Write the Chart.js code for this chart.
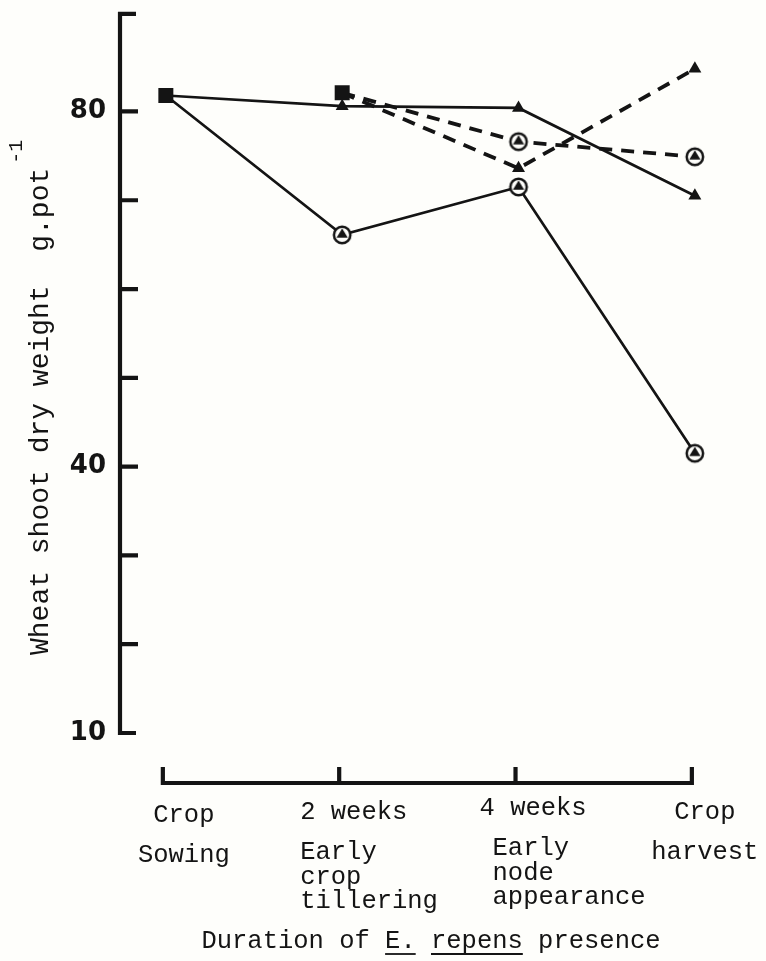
<!DOCTYPE html>
<html>
<head>
<meta charset="utf-8">
<script src="https://cdn.jsdelivr.net/npm/chart.js@4.4.1/dist/chart.umd.min.js"></script>
<style>
  html, body { margin: 0; padding: 0; background: #fefefb; }
  #wrap { width: 766px; height: 961px; }
</style>
</head>
<body>
<div id="wrap"><canvas id="lineChart"></canvas></div>
<script>
// stages of E. repens presence (x categories)
const stages = [
  ["Crop", "Sowing"],
  ["2 weeks", "Early", "crop", "tillering"],
  ["4 weeks", "Early", "node", "appearance"],
  ["Crop", "harvest"]
];
// wheat shoot dry weight, g per pot
const solidTriangle = [81.8, 80.6, 80.4, 70.5];
const solidCircle = [81.8, 66.1, 71.5, 41.5];
const dashTriangle = [null, 82.1, 73.6, 84.8];
const dashCircle = [null, 82.1, 76.6, 74.9];
const startSquares = [81.8, 82.1, null, null];
const yTickLabels = [10, 40, 80];
const yTickMarks = [20, 30, 40, 50, 60, 70, 80];
const yMin = 10, yMax = 91;

const ink = "#141414";
const mono = "'Liberation Mono', 'DejaVu Sans Mono', monospace";

const toPoints = (arr) => arr.map((v, i) => ({ x: i, y: v }));

// circle with a filled triangle inside
function circledTriangle() {
  const c = document.createElement("canvas");
  c.width = 22; c.height = 22;
  const g = c.getContext("2d");
  g.fillStyle = "#fefefb";
  g.beginPath(); g.arc(11, 11, 8.2, 0, Math.PI * 2); g.fill();
  g.lineWidth = 2.5; g.strokeStyle = ink; g.stroke();
  g.fillStyle = ink;
  g.beginPath(); g.moveTo(11, 4.6); g.lineTo(16.6, 13.8); g.lineTo(5.4, 13.8); g.closePath(); g.fill();
  return c;
}
const circleMark = circledTriangle();

// axis frame, bracket and text drawn off the scales
const frame = {
  id: "frame",
  afterDraw(chart) {
    const { ctx, scales: { x, y } } = chart;
    const ax = chart.chartArea.left;
    const top = y.getPixelForValue(yMax);
    const bottom = y.getPixelForValue(yMin);
    ctx.save();
    ctx.strokeStyle = ink;
    ctx.lineWidth = 4.2;
    ctx.lineJoin = "miter";
    ctx.beginPath();
    ctx.moveTo(ax + 16, top);
    ctx.lineTo(ax, top);
    ctx.lineTo(ax, bottom);
    ctx.lineTo(ax + 16, bottom);
    yTickMarks.forEach((v) => {
      const py = y.getPixelForValue(v);
      ctx.moveTo(ax, py);
      ctx.lineTo(ax + 18, py);
    });
    ctx.stroke();

    // x bracket below the plot
    const by = 783;
    ctx.beginPath();
    ctx.moveTo(x.getPixelForValue(0) - 3, by - 16);
    ctx.lineTo(x.getPixelForValue(0) - 3, by);
    ctx.lineTo(x.getPixelForValue(3) - 3, by);
    ctx.lineTo(x.getPixelForValue(3) - 3, by - 16);
    [1, 2].forEach((i) => {
      const px = x.getPixelForValue(i) - 3;
      ctx.moveTo(px, by);
      ctx.lineTo(px, by - 16);
    });
    ctx.stroke();

    // stage labels
    ctx.fillStyle = ink;
    ctx.font = "25.5px " + mono;
    ctx.textBaseline = "middle";
    const rows = [812, 852, 877, 901];
    const colShift = [3, 0, -4, 0];
    stages.forEach((lines, i) => {
      const px = x.getPixelForValue(i);
      lines.forEach((t, j) => {
        const ty = rows[j] + colShift[i];
        if (i === 0 || i === 3) {
          ctx.textAlign = "center";
          ctx.fillText(t, px + (i === 0 ? 18 : 10), ty);
        } else {
          ctx.textAlign = "left";
          const off = (i === 2 && j > 0) ? -26 : (i === 2 ? -39 : -42);
          ctx.fillText(t, px + off, ty);
        }
      });
    });

    // x title with underlined species name
    const parts = ["Duration of ", "E.", " ", "repens", " presence"];
    ctx.textAlign = "left";
    const full = parts.join("");
    let tx = 431 - ctx.measureText(full).width / 2;
    const ty = 941;
    ctx.lineWidth = 1.8;
    parts.forEach((p, k) => {
      const w = ctx.measureText(p).width;
      ctx.fillText(p, tx, ty);
      if (k === 1 || k === 3) {
        ctx.beginPath();
        ctx.moveTo(tx, ty + 13);
        ctx.lineTo(tx + w, ty + 13);
        ctx.stroke();
      }
      tx += w;
    });

    // y title, rotated, with superscript
    ctx.save();
    ctx.translate(41, 655);
    ctx.rotate(-Math.PI / 2);
    ctx.textAlign = "left";
    ctx.font = "28px " + mono;
    const yt = "Wheat shoot dry weight  g.pot";
    ctx.fillText(yt, 0, 0);
    const w = ctx.measureText(yt).width;
    ctx.font = "20px " + mono;
    ctx.fillText("-1", w + 4, -24);
    ctx.restore();

    ctx.restore();
  }
};

new Chart(document.getElementById("lineChart"), {
  type: "line",
  data: {
    datasets: [
      {
        label: "Start",
        data: toPoints(startSquares),
        showLine: false,
        pointStyle: "rect",
        pointRadius: 10.6,
        backgroundColor: ink,
        borderColor: ink,
        borderWidth: 0
      },
      {
        label: "Present, triangle",
        data: toPoints(solidTriangle),
        borderColor: ink,
        borderWidth: 2.7,
        pointStyle: "triangle",
        pointRadius: [0, 7.5, 7.5, 7.5],
        backgroundColor: ink,
        pointBorderWidth: 0,
        tension: 0
      },
      {
        label: "Present, circle",
        data: toPoints(solidCircle),
        borderColor: ink,
        borderWidth: 2.7,
        pointStyle: circleMark,
        pointRadius: [0, 10, 10, 10],
        tension: 0
      },
      {
        label: "Removed, triangle",
        data: toPoints(dashTriangle),
        borderColor: ink,
        borderWidth: 3.8,
        borderDash: [13, 9],
        pointStyle: "triangle",
        pointRadius: [0, 0, 7.5, 7.5],
        backgroundColor: ink,
        pointBorderWidth: 0,
        tension: 0
      },
      {
        label: "Removed, circle",
        data: toPoints(dashCircle),
        borderColor: ink,
        borderWidth: 3.8,
        borderDash: [13, 9],
        pointStyle: circleMark,
        pointRadius: [0, 0, 10, 10],
        tension: 0
      }
    ]
  },
  options: {
    responsive: true,
    maintainAspectRatio: false,
    animation: false,
    layout: { padding: { left: 0, right: 20, top: 12.5, bottom: 228 } },
    plugins: { legend: { display: false }, tooltip: { enabled: false } },
    scales: {
      x: {
        type: "linear",
        min: -0.26,
        max: 3.29,
        display: false
      },
      y: {
        min: yMin,
        max: yMax,
        border: { display: false },
        grid: { display: false, drawTicks: false },
        afterBuildTicks: (scale) => {
          scale.ticks = yTickLabels.map((v) => ({ value: v }));
        },
        afterFit: (scale) => {
          scale.width = 120;
          scale.paddingTop = 0;
          scale.paddingBottom = 0;
        },
        ticks: {
          padding: 14,
          color: ink,
          font: { family: "'DejaVu Sans', sans-serif", weight: "bold", size: 26 }
        }
      }
    }
  },
  plugins: [frame]
});
</script>
</body>
</html>
